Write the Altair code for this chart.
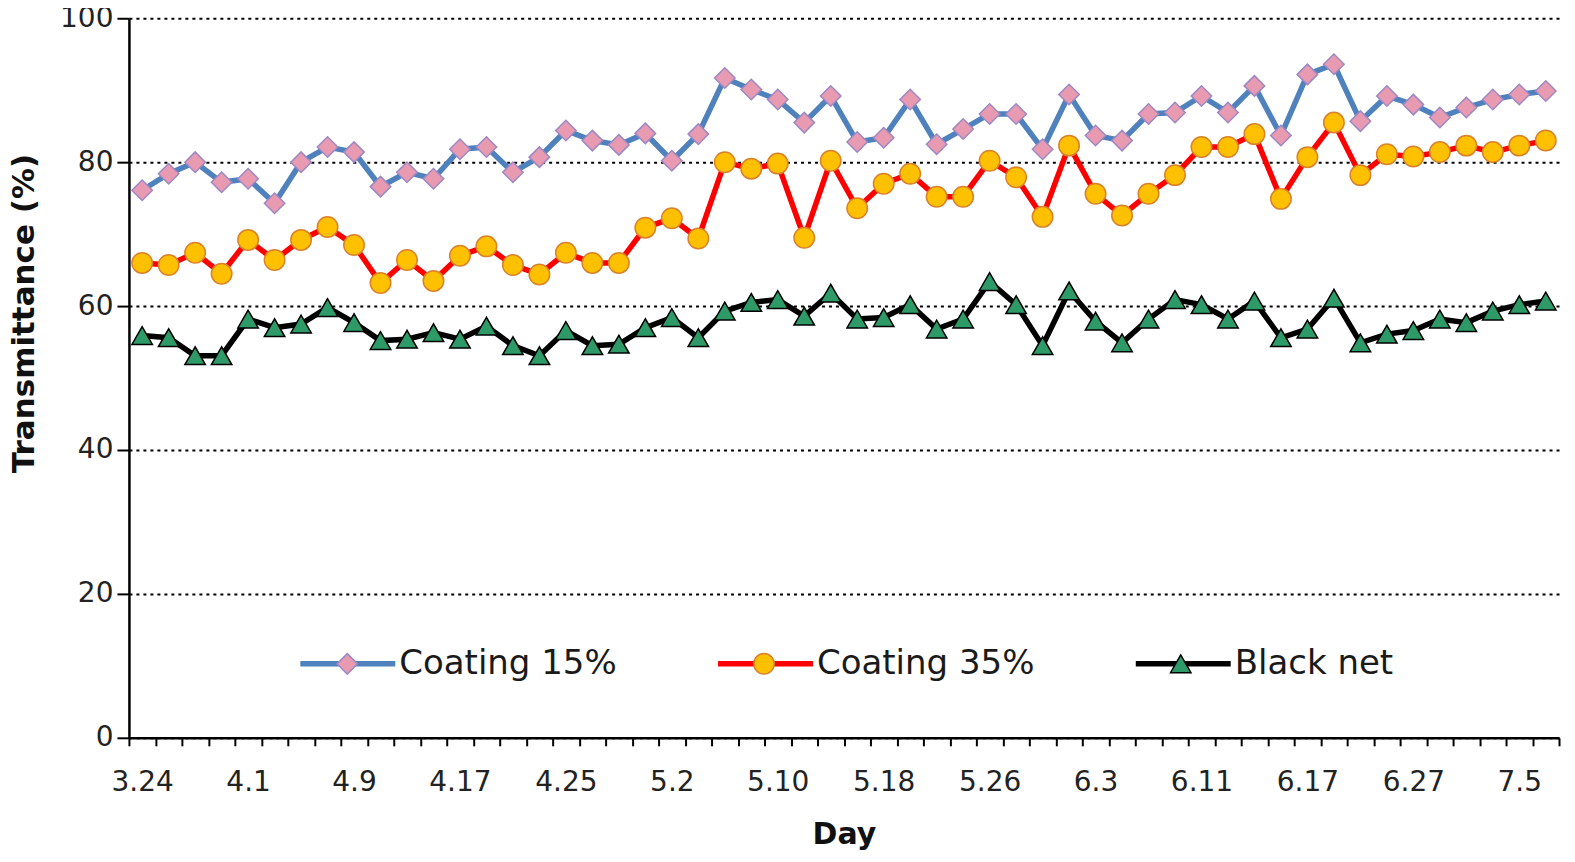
import json
import altair as alt
import pandas as pd

# ---------------- data ----------------
series_names = ["Coating 15%", "Coating 35%", "Black net"]

coating15 = [76.1, 78.4, 80.0, 77.2, 77.7, 74.3, 80.0, 82.1, 81.4,
             76.6, 78.6, 77.7, 81.8, 82.1, 78.6, 80.7, 84.4, 83.0,
             82.4, 84.0, 80.2, 83.9, 91.7, 90.1, 88.7, 85.5, 89.2,
             82.8, 83.4, 88.7, 82.5, 84.6, 86.7, 86.7, 81.8, 89.4,
             83.7, 83.0, 86.7, 86.9, 89.2, 86.9, 90.6, 83.7, 92.2,
             93.6, 85.7, 89.2, 88.0, 86.2, 87.6, 88.7, 89.4, 89.9]

coating35 = [66.0, 65.7, 67.4, 64.5, 69.2, 66.4, 69.2, 71.0, 68.5,
             63.2, 66.4, 63.5, 67.0, 68.3, 65.7, 64.4, 67.4, 66.0,
             66.0, 70.9, 72.2, 69.4, 80.0, 79.1, 79.8, 69.5, 80.2,
             73.6, 77.0, 78.4, 75.2, 75.2, 80.2, 77.9, 72.4, 82.3,
             75.6, 72.6, 75.6, 78.2, 82.1, 82.1, 83.9, 74.9, 80.7,
             85.5, 78.2, 81.1, 80.8, 81.4, 82.3, 81.4, 82.3, 83.0]

black_net = [55.9, 55.6, 53.1, 53.1, 58.2, 57.0, 57.5, 59.8, 57.7,
             55.2, 55.4, 56.3, 55.4, 57.2, 54.5, 53.1, 56.6, 54.5,
             54.7, 57.0, 58.4, 55.6, 59.3, 60.5, 60.9, 58.6, 61.8,
             58.2, 58.4, 60.2, 56.8, 58.2, 63.4, 60.2, 54.5, 62.1,
             57.9, 54.9, 58.2, 60.9, 60.2, 58.2, 60.7, 55.6, 56.8,
             61.1, 54.9, 56.1, 56.6, 58.2, 57.7, 59.3, 60.2, 60.7]

# labels shown under every 4th day category
day_labels = ["3.24", "4.1", "4.9", "4.17", "4.25", "5.2", "5.10",
              "5.18", "5.26", "6.3", "6.11", "6.17", "6.27", "7.5"]
label_every = 4
n_days = len(coating15)

y_ticks = [0, 20, 40, 60, 80, 100]

# ---------------- styles ----------------
line_colors = ["#4F81BD", "#FF0000", "#000000"]
marker_shapes = ["diamond", "circle", "triangle-up"]
marker_fills = ["#E89BB0", "#FFC000", "#2E9A68"]
marker_strokes = ["#9C88C6", "#D9822B", "#000000"]
FONT = "DejaVu Sans"

rows = []
for order, (name, vals) in enumerate(zip(series_names, [coating15, coating35, black_net])):
    for i, v in enumerate(vals):
        rows.append({"day": i, "value": v, "series": name, "series_m": name, "order": order})
df = pd.DataFrame(rows)

label_expr = ("(datum.value - 0.5) % " + str(label_every) + " === 0 ? "
              + json.dumps(day_labels) + "[(datum.value - 0.5) / " + str(label_every) + "] : ''")

x_enc = alt.X(
    "pos:Q",
    scale=alt.Scale(domain=[0, n_days], nice=False, zero=False),
    axis=alt.Axis(
        values=[k / 2 for k in range(2 * n_days + 1)],
        labelExpr=label_expr,
        labelOverlap=False,
        labelFlush=False,
        grid=False,
        tickOpacity={"condition": {"test": "datum.value % 1 === 0", "value": 1}, "value": 0},
        tickSize=8, tickWidth=2, tickColor="black",
        domainColor="black", domainWidth=2.5,
        labelFont=FONT, labelFontSize=28, labelColor="#222222", labelPadding=23,
        title="Day", titleFont=FONT, titleFontSize=30, titleFontWeight="bold",
        titleColor="#111111", titleY=106, titleBaseline="alphabetic",
    ),
)

y_enc = alt.Y(
    "value:Q",
    scale=alt.Scale(domain=[0, 100], nice=False, zero=True),
    axis=alt.Axis(
        values=y_ticks,
        grid=True, gridColor="black", gridDash=[3, 4], gridWidth=2,
        tickSize=12, tickWidth=2, tickColor="black",
        domainColor="black", domainWidth=2.5,
        labelFont=FONT, labelFontSize=28, labelColor="#222222", labelPadding=4,
        title="Transmittance (%)", titleFont=FONT, titleFontSize=31, titleFontWeight="bold",
        titleColor="#111111", titleAngle=270, titleX=-95, titleY=295,
        titleBaseline="alphabetic", titleAlign="center",
    ),
)

legend_common = dict(
    title=None, orient="none", legendX=168.5, legendY=626, direction="horizontal",
    labelFont=FONT, labelFontSize=34, labelLimit=500, columnPadding=98,
    padding=0, clipHeight=40,
)

legend_lines = alt.Legend(
    symbolType="stroke", symbolSize=9025, symbolStrokeWidth=5.5,
    labelOffset=1, labelColor="#1a1a1a", zindex=1, **legend_common
)
legend_markers = alt.Legend(
    symbolSize=420, symbolStrokeWidth=1.5, symbolOffset=33,
    labelOffset=34, labelOpacity=0, zindex=2, **legend_common
)

base = alt.Chart(df).transform_calculate(pos="datum.day + 0.5")

sort_m = alt.EncodingSortField(field="order", op="min")

lines = base.mark_line(strokeWidth=5.5).encode(
    x=x_enc,
    y=y_enc,
    color=alt.Color("series:N",
                    scale=alt.Scale(domain=series_names, range=line_colors),
                    legend=legend_lines),
)

points = base.mark_point(filled=True, size=420, strokeWidth=1.5, opacity=1).encode(
    x=x_enc,
    y=y_enc,
    shape=alt.Shape("series_m:N", sort=sort_m, scale=alt.Scale(range=marker_shapes), legend=legend_markers),
    fill=alt.Fill("series_m:N", sort=sort_m, scale=alt.Scale(range=marker_fills), legend=legend_markers),
    stroke=alt.Stroke("series_m:N", sort=sort_m, scale=alt.Scale(range=marker_strokes), legend=legend_markers),
)

chart = alt.layer(lines, points).properties(
    width=1431,
    height=720,
    autosize=alt.AutoSizeParams(type="none"),
    padding={"left": 121, "top": 10, "right": 8, "bottom": 116},
    background="white",
).configure_view(stroke="transparent")

chart.save("out.html", embed_options={"renderer": "svg", "actions": False})
